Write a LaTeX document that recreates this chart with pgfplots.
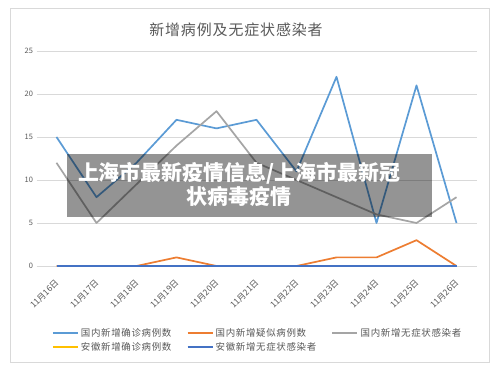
\documentclass[border=0pt]{standalone}
\usepackage{fontspec}
\setmainfont{Noto Sans CJK SC}
\usepackage{pgfplots}
\pgfplotsset{compat=1.18}
\definecolor{cblue}{HTML}{5B9BD5}
\definecolor{corange}{HTML}{ED7D31}
\definecolor{cgray}{HTML}{A5A5A5}
\definecolor{cyellow}{HTML}{FFC000}
\definecolor{cdblue}{HTML}{4472C4}
\definecolor{textgray}{HTML}{595959}
\definecolor{gridc}{HTML}{D9D9D9}
\begin{document}
\begin{tikzpicture}
\path[use as bounding box] (0bp,0bp) rectangle (500bp,372bp);
\fill[white] (0bp,0bp) rectangle (500bp,372bp);
\draw[gridc, line width=0.8bp] (10.5bp,9.5bp) rectangle (489.5bp,363.5bp);
\node[font=\fontsize{15}{17}\selectfont\addfontfeature{LetterSpace=6}, text=textgray] at (236bp,342bp) {新增病例及无症状感染者};
\begin{axis}[
  at={(36.5bp,106bp)}, anchor=south west,
  scale only axis, width=440bp, height=215bp,
  xmin=-0.5, xmax=10.5, ymin=0, ymax=25,
  ytick={0,5,10,15,20,25},
  xtick={0,1,2,3,4,5,6,7,8,9,10},
  xticklabels={11月16日,11月17日,11月18日,11月19日,11月20日,11月21日,11月22日,11月23日,11月24日,11月25日,11月26日},
  ymajorgrids, grid style={gridc, line width=0.8bp},
  axis line style={draw=none},
  major tick length=0pt,
  clip=false,
  /pgf/number format/assume math mode=true,
  yticklabel style={font=\fontsize{7.5}{9}\selectfont, text=textgray},
  xticklabel style={xshift=3bp, yshift=-13bp, rotate=45, anchor=east, font=\fontsize{8.5}{10}\selectfont, text=textgray},
  legend columns=3,
  legend cell align=left,
  legend image code/.code={\draw[#1, line width=2.3bp] (0bp,0bp) -- (25bp,0bp);},
  legend style={at={(0.034,-0.283)}, anchor=north west, draw=none, fill=none, inner sep=0pt,
    font=\fontsize{9.5}{11}\selectfont\addfontfeature{LetterSpace=7}, text=textgray, row sep=2bp,
    nodes={inner sep=1bp, text height=8bp, text depth=2bp},
    /tikz/every odd column/.append style={column sep=1bp},
    /tikz/every even column/.append style={column sep=14bp}},
  every axis plot/.append style={line width=1.7bp, line join=round},
]
\addplot[cblue] coordinates {(0,15)(1,8)(2,12)(3,17)(4,16)(5,17)(6,11)(7,22)(8,5)(9,21)(10,5)};
\addlegendentry{国内新增确诊病例数}
\addplot[corange] coordinates {(0,0)(1,0)(2,0)(3,1)(4,0)(5,0)(6,0)(7,1)(8,1)(9,3)(10,0)};
\addlegendentry{国内新增疑似病例数}
\addplot[cgray] coordinates {(0,12)(1,5)(2,9.5)(3,14)(4,18)(5,12)(6,10)(7,8)(8,6)(9,5)(10,8)};
\addlegendentry{国内新增无症状感染者}
\addplot[cyellow] coordinates {(0,0)(1,0)(2,0)(3,0)(4,0)(5,0)(6,0)(7,0)(8,0)(9,0)(10,0)};
\addlegendentry{安徽新增确诊病例数}
\addplot[cdblue, line width=1.3bp] coordinates {(0,0)(1,0)(2,0)(3,0)(4,0)(5,0)(6,0)(7,0)(8,0)(9,0)(10,0)};
\addlegendentry{安徽新增无症状感染者}
\end{axis}
\fill[black, opacity=0.42] (67bp,155bp) rectangle (432bp,218bp);
\node[text=white, font=\fontsize{21}{25}\selectfont\bfseries, align=center] at (239bp,187.5bp) {上海市最新疫情信息/上海市最新冠\\状病毒疫情};
\end{tikzpicture}
\end{document}
